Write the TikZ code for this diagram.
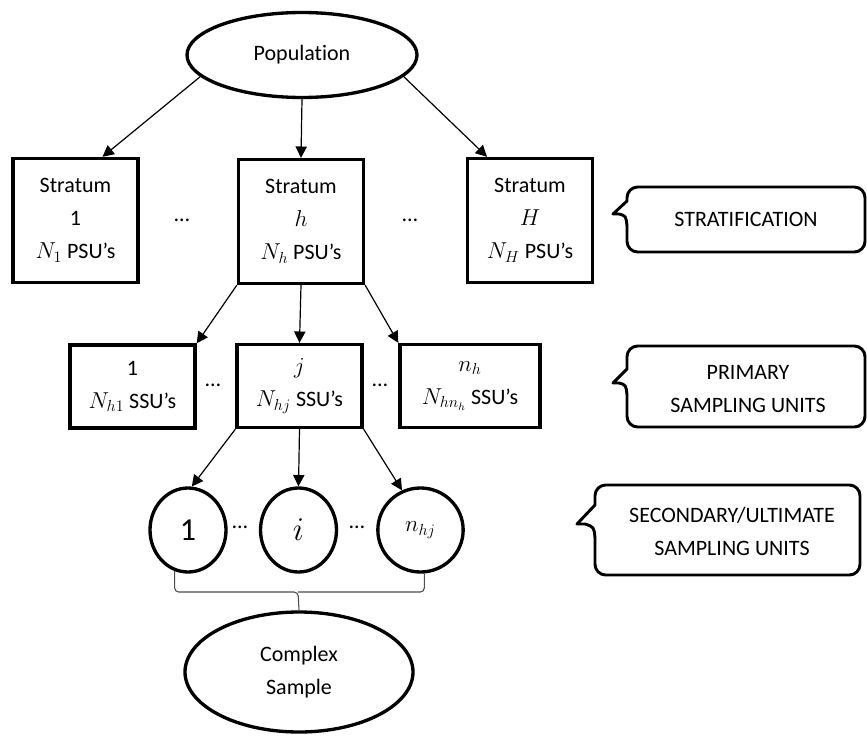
\documentclass[tikz,border=0pt]{standalone}
\usepackage{fontspec}
\setmainfont{Carlito}[Ligatures=NoCommon]
\usetikzlibrary{shapes.geometric,arrows.meta}
\tikzset{
  unit/.style={draw,line width=2.5pt,align=center,inner sep=0pt},
  stratbox/.style={unit,rectangle,minimum width=93.75pt,minimum height=93pt},
  psubox/.style={unit,rectangle,minimum width=93.75pt,minimum height=62.25pt},
  ssu/.style={unit,ellipse,minimum width=57pt,minimum height=63pt},
  link/.style={line width=0.9pt,-{Triangle[length=8.5pt,width=8.5pt]}},
  bubble/.style={draw,line width=2.2pt,line join=round},
  brace/.style={line width=0.8pt,black!70,rounded corners=3pt},
}
\begin{document}
\begin{tikzpicture}[x=0.75pt,y=-0.75pt,font=\fontsize{16.5}{24.75}\selectfont]
  \useasboundingbox (0,0) rectangle (867,735);
  % population and strata
  \node[unit,ellipse,minimum width=172.5pt,minimum height=63.75pt] (pop) at (302,55) {Population};
  \node[stratbox] (s1) at (75.5,220.5) {Stratum\\1\\$N_1$ PSU’s};
  \node[stratbox] (sh) at (301,221.5) {Stratum\\$h$\\$N_h$ PSU’s};
  \node[stratbox] (sH) at (530,220.5) {Stratum\\$H$\\$N_H$ PSU’s};
  \node (d1) at (182,220) {\dots};
  \node (d2) at (410,220) {\dots};
  \draw[link] (pop.192) -- (s1.67);
  \draw[link] (pop.south) -- (sh.north);
  \draw[link] (pop.-12) -- (sH.124);
  % primary sampling units
  \node[psubox] (p1) at (132.5,386.5) {1\\$N_{h1}$ SSU’s};
  \node[psubox] (pj) at (299.5,386) {$j$\\$N_{hj}$ SSU’s};
  \node[psubox,minimum width=105pt] (pn) at (470,386) {$n_h$\\$N_{hn_h}$ SSU’s};
  \node (d3) at (213,385) {\dots};
  \node (d4) at (380,385) {\dots};
  \draw[link] (sh.south west) -- (p1.north east);
  \draw[link] (sh.south) -- (pj.north);
  \draw[link] (sh.south east) -- (pn.north west);
  % secondary units
  \node[ssu] (c1) at (188,530) {\fontsize{24}{24}\selectfont 1};
  \node[ssu] (ci) at (298.5,530) {\fontsize{24}{24}\selectfont $i$};
  \node[ssu,minimum width=64pt] (cn) at (420.5,530) {$n_{hj}$};
  \node (d5) at (240,527) {\dots};
  \node (d6) at (357,527) {\dots};
  \draw[link] (pj.south west) -- (c1.85);
  \draw[link] (pj.south) -- (ci.north);
  \draw[link] (pj.south east) -- (cn.115);
  % complex sample
  \node[unit,ellipse,minimum width=171pt,minimum height=90pt] (cs) at (299,672) {Complex\\Sample};
  \coordinate (bm) at (298,592);
  \draw[brace] (c1.252) |- (bm) -- (cs.north);
  \draw[brace] (cn.275) |- (bm);
  % callouts
  \draw[bubble] (613,214) -- (627,201) -- (627,197.67) arc[start angle=180,end angle=90,radius=8pt]
    -- (854.33,187) arc[start angle=90,end angle=0,radius=8pt]
    -- (865,241.33) arc[start angle=0,end angle=-90,radius=8pt]
    -- (637.67,252) arc[start angle=-90,end angle=-180,radius=8pt]
    -- (627,226) .. controls (626,216) .. (619,214) -- cycle;
  \node (strat) at (746,219) {STRATIFICATION};
  \draw[bubble] (613,383) -- (627,369) -- (627,356.67) arc[start angle=180,end angle=90,radius=8pt]
    -- (854.33,346) arc[start angle=90,end angle=0,radius=8pt]
    -- (865,416.33) arc[start angle=0,end angle=-90,radius=8pt]
    -- (637.67,427) arc[start angle=-90,end angle=-180,radius=8pt]
    -- (627,395) .. controls (626,385) .. (619,383) -- cycle;
  \node[align=center] (psu) at (748,389) {PRIMARY\\SAMPLING UNITS};
  \draw[bubble] (577,524) -- (595,505) -- (595,495.67) arc[start angle=180,end angle=90,radius=8pt]
    -- (849.33,485) arc[start angle=90,end angle=0,radius=8pt]
    -- (860,564.33) arc[start angle=0,end angle=-90,radius=8pt]
    -- (605.67,575) arc[start angle=-90,end angle=-180,radius=8pt]
    -- (595,538) .. controls (594,527) .. (585,524) -- cycle;
  \node[align=center] (ssul) at (732,531) {SECONDARY/ULTIMATE\\SAMPLING UNITS};
\end{tikzpicture}
\end{document}
